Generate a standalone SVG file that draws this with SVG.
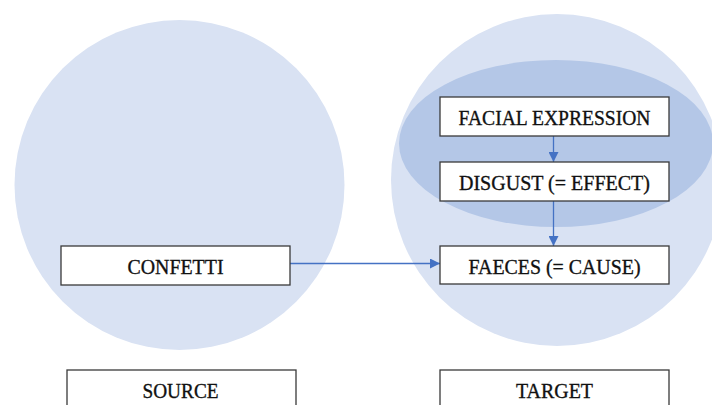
<svg xmlns="http://www.w3.org/2000/svg" width="712" height="405" viewBox="0 0 712 405">
<style>
.box{fill:#fff;stroke:#3a3a3a;stroke-width:1.3}
.lbl{font-family:"Liberation Serif","Times New Roman",serif;font-size:22px;fill:#111;stroke:#111;stroke-width:0.35;text-anchor:middle}
.con{stroke:#4472C4;stroke-width:1.3;fill:none;marker-end:url(#ah)}
</style>
<defs>
<marker id="ah" viewBox="0 0 10 10" refX="10" refY="5" markerWidth="10" markerHeight="10" markerUnits="userSpaceOnUse" orient="auto">
<path d="M0,0 L10,5 L0,10 z" fill="#4472C4"/>
</marker>
</defs>
<rect width="712" height="405" fill="#fff"/>
<g id="source-domain"><circle cx="179.5" cy="185" r="165" fill="#D9E2F3"/></g>
<g id="target-domain"><circle cx="557" cy="180" r="166" fill="#D9E2F3"/></g>
<g id="target-subdomain"><ellipse cx="556" cy="143.5" rx="157" ry="83.5" fill="#B4C7E7"/></g>
<g id="connectors">
<line class="con" x1="290" y1="263.5" x2="440" y2="263.5"/>
<line class="con" x1="553.5" y1="136" x2="553.5" y2="162"/>
<line class="con" x1="553.5" y1="201" x2="553.5" y2="246"/>
</g>
<g id="confetti"><rect class="box" x="61" y="246" width="229" height="39"/><text class="lbl" x="175.5" y="274" textLength="96" lengthAdjust="spacingAndGlyphs">CONFETTI</text></g>
<g id="facial-expression"><rect class="box" x="440" y="97" width="229" height="39"/><text class="lbl" x="554.5" y="124.5" textLength="192" lengthAdjust="spacingAndGlyphs">FACIAL EXPRESSION</text></g>
<g id="disgust"><rect class="box" x="440" y="162" width="229" height="39"/><text class="lbl" x="554.5" y="190" textLength="191" lengthAdjust="spacingAndGlyphs">DISGUST (= EFFECT)</text></g>
<g id="faeces"><rect class="box" x="440" y="246" width="229" height="38"/><text class="lbl" x="554.5" y="274" textLength="172" lengthAdjust="spacingAndGlyphs">FAECES (= CAUSE)</text></g>
<g id="source"><rect class="box" x="67" y="370" width="229" height="40"/><text class="lbl" x="180.5" y="398" textLength="76" lengthAdjust="spacingAndGlyphs">SOURCE</text></g>
<g id="target"><rect class="box" x="440" y="370" width="229" height="40"/><text class="lbl" x="554.5" y="398" textLength="77" lengthAdjust="spacingAndGlyphs">TARGET</text></g>
</svg>
